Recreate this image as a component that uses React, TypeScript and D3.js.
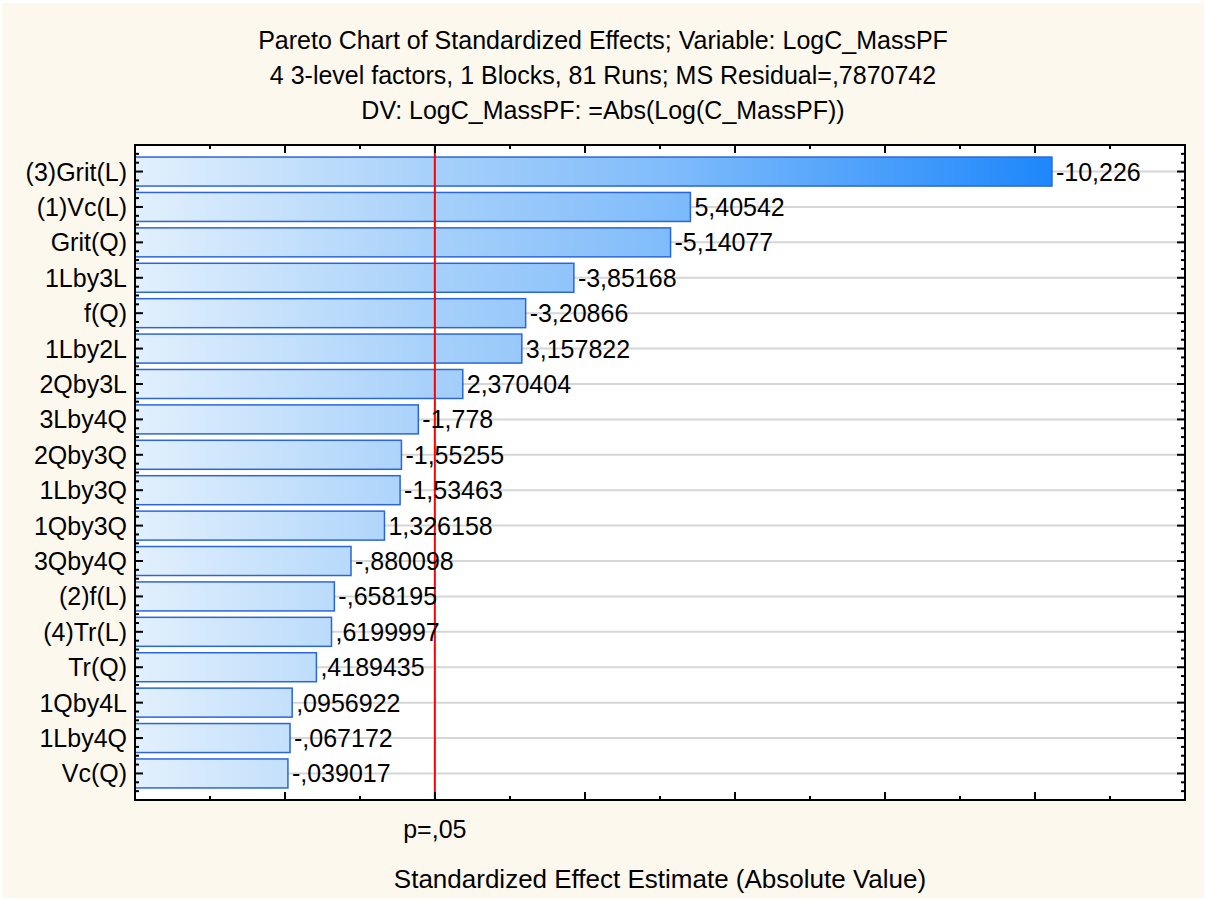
import React from "react";
import * as d3 from "d3";

const effectNames = [
  "(3)Grit(L)", "(1)Vc(L)", "Grit(Q)", "1Lby3L", "f(Q)", "1Lby2L", "2Qby3L", "3Lby4Q", "2Qby3Q",
  "1Lby3Q", "1Qby3Q", "3Qby4Q", "(2)f(L)", "(4)Tr(L)", "Tr(Q)", "1Qby4L", "1Lby4Q", "Vc(Q)",
];
const effectValues = [
  -10.226, 5.40542, -5.14077, -3.85168, -3.20866, 3.157822, 2.370404, -1.778, -1.55255,
  -1.53463, 1.326158, -0.880098, -0.658195, 0.6199997, 0.4189435, 0.0956922, -0.067172, -0.039017,
];
const criticalValue = 1.998;
const titleLines = [
  "Pareto Chart of Standardized Effects; Variable: LogC_MassPF",
  "4 3-level factors, 1 Blocks, 81 Runs; MS Residual=,7870742",
  "DV: LogC_MassPF: =Abs(Log(C_MassPF))",
];
const xAxisTitle = "Standardized Effect Estimate (Absolute Value)";
const critLabel = "p=,05";

const W = 1206, H = 900;
const plot = { left: 135, right: 1185, top: 145, bottom: 800 };
const FONT = "'Liberation Sans', Arial, sans-serif";
const FS = 25;

function fmt(v: number): string {
  return String(v).replace(".", ",").replace(/^(-?)0,/, "$1,");
}

export default function App() {
  const x = d3.scaleLinear().domain([-2, 12]).range([plot.left, plot.right]);
  const y = d3.scaleLinear().domain([0.25, effectNames.length + 0.75]).range([plot.top, plot.bottom]);
  const barH = 29;
  const rows = effectNames.map((n, i) => ({ name: n, v: effectValues[i], pos: i + 1 }));
  const xMajor = d3.range(-2, 12.01, 2);
  const xMinor = d3.range(-1, 12, 2);
  const yAll = d3.range(0.25, effectNames.length + 0.76, 0.25);
  const maxEnd = x(d3.max(effectValues, (v) => Math.abs(v)) as number);
  const cx = (plot.left + plot.right) / 2;

  return (
    <svg width={W} height={H} style={{ position: "absolute", left: 0, top: 0 }} fontFamily={FONT}>
      <defs>
        <linearGradient id="barGrad" gradientUnits="userSpaceOnUse" x1={plot.left} x2={maxEnd} y1={0} y2={0}>
          <stop offset="0" stopColor="#e2f0fd" />
          <stop offset="0.33" stopColor="#a6d0fa" />
          <stop offset="0.58" stopColor="#80bcfb" />
          <stop offset="1" stopColor="#1e87fb" />
        </linearGradient>
      </defs>
      <rect x={0} y={0} width={W} height={H} fill="#ffffff" />
      <rect x={2} y={3} width={W - 4} height={H - 5} fill="#fdf8ed" />
      {titleLines.map((t, i) => (
        <text key={i} x={W / 2} y={49 + i * 35} fontSize={FS} textAnchor="middle" fill="#000">{t}</text>
      ))}
      <rect x={plot.left} y={plot.top} width={plot.right - plot.left} height={plot.bottom - plot.top} fill="#ffffff" />
      {rows.map((r) => (
        <line key={"g" + r.pos} x1={plot.left} x2={plot.right} y1={y(r.pos)} y2={y(r.pos)} stroke="#d6d6d6" strokeWidth={2} />
      ))}
      {rows.map((r) => (
        <rect key={"b" + r.pos} x={plot.left} y={y(r.pos) - barH / 2} width={x(Math.abs(r.v)) - plot.left} height={barH}
          fill="url(#barGrad)" stroke="#2a66d9" strokeWidth={1.5} />
      ))}
      <line x1={x(criticalValue)} x2={x(criticalValue)} y1={plot.top} y2={plot.bottom} stroke="#ff0000" strokeWidth={2} />
      {rows.map((r) => (
        <text key={"v" + r.pos} x={x(Math.abs(r.v)) + 4} y={y(r.pos) + 9} fontSize={FS} fill="#000">{fmt(r.v)}</text>
      ))}
      {rows.map((r) => (
        <text key={"n" + r.pos} x={plot.left - 8} y={y(r.pos) + 9} fontSize={FS} textAnchor="end" fill="#000">{r.name}</text>
      ))}
      <rect x={plot.left} y={plot.top} width={plot.right - plot.left} height={plot.bottom - plot.top} fill="none" stroke="#000" strokeWidth={2} />
      {yAll.map((v, i) => {
        const major = Math.abs(v - Math.round(v)) < 1e-6;
        const len = major ? 8 : 4;
        return (
          <g key={"yt" + i}>
            <line x1={plot.left} x2={plot.left + len} y1={y(v)} y2={y(v)} stroke="#000" strokeWidth={2} />
            <line x1={plot.right} x2={plot.right - len} y1={y(v)} y2={y(v)} stroke="#000" strokeWidth={2} />
          </g>
        );
      })}
      {xMajor.map((v) => (
        <g key={"xM" + v}>
          <line x1={x(v)} x2={x(v)} y1={plot.bottom} y2={plot.bottom - 8} stroke="#000" strokeWidth={2} />
          <line x1={x(v)} x2={x(v)} y1={plot.top} y2={plot.top + 8} stroke="#000" strokeWidth={2} />
        </g>
      ))}
      {xMinor.map((v) => (
        <g key={"xm" + v}>
          <line x1={x(v)} x2={x(v)} y1={plot.bottom} y2={plot.bottom - 4} stroke="#000" strokeWidth={2} />
          <line x1={x(v)} x2={x(v)} y1={plot.top} y2={plot.top + 4} stroke="#000" strokeWidth={2} />
        </g>
      ))}
      <text x={x(criticalValue)} y={838} fontSize={FS} textAnchor="middle" fill="#000">{critLabel}</text>
      <text x={cx} y={888} fontSize={26} textAnchor="middle" fill="#000">{xAxisTitle}</text>
    </svg>
  );
}
